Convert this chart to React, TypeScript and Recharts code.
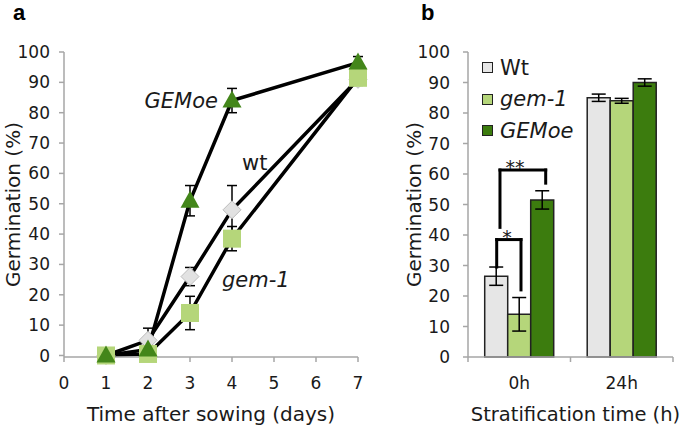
import React from 'react';
import {
  ComposedChart,
  Line,
  XAxis,
  YAxis,
  ErrorBar,
  ReferenceDot,
  ReferenceLine,
  BarChart,
  Bar,
  Legend,
} from 'recharts';

// ---------- Panel a data ----------
const days = [1, 2, 3, 4, 7];
const wtA = [0, 5, 26, 48, 91];
const wtAErr = [0.5, 4, 3, 8, 2];
const gem1A = [0, 0.5, 14, 38.5, 91.5];
const gem1AErr = [0.5, 1, 5.5, 4, 2];
const gemoeA = [0, 2, 51, 84, 96.5];
const gemoeAErr = [0.5, 1.5, 5, 4, 2];
const xTicksA = [0, 1, 2, 3, 4, 5, 6, 7];
const yTicks = [0, 10, 20, 30, 40, 50, 60, 70, 80, 90, 100];

// ---------- Panel b data ----------
const stratTimes = ['0h', '24h'];
const wtB = [26.5, 85];
const wtBErr = [3, 1.2];
const gem1B = [14, 84];
const gem1BErr = [5.5, 0.8];
const gemoeB = [51.5, 90];
const gemoeBErr = [3, 1.2];
const seriesNames = ['Wt', 'gem-1', 'GEMoe'];

const lineData = days.map((d, i) => ({
  day: d,
  wt: wtA[i],
  wtErr: wtAErr[i],
  gem1: gem1A[i],
  gem1Err: gem1AErr[i],
  gemoe: gemoeA[i],
  gemoeErr: gemoeAErr[i],
}));

const barData = stratTimes.map((t, i) => ({
  time: t,
  slot: i + 0.5,
  wt: wtB[i],
  wtErr: wtBErr[i],
  gem1: gem1B[i],
  gem1Err: gem1BErr[i],
  gemoe: gemoeB[i],
  gemoeErr: gemoeBErr[i],
}));

const FONT = '"DejaVu Sans", sans-serif';
const AXIS = '#a6a6a6';
const TXT = '#1a1a1a';
const C_WT = '#e6e6e6';
const C_GEM = '#b5d67a';
const C_OE = '#3c7c0e';
const C_OE_MARK = '#43861a';

const tickStyle = { fill: TXT, fontSize: 17, fontFamily: FONT };

const Triangle = (p: any) => {
  const { cx, cy } = p;
  if (cx == null || cy == null) return null;
  return (
    <polygon
      points={`${cx},${cy - 10} ${cx + 9.5},${cy + 7} ${cx - 9.5},${cy + 7}`}
      fill={C_OE_MARK}
    />
  );
};
const Diamond = (p: any) => {
  const { cx, cy } = p;
  if (cx == null || cy == null) return null;
  return (
    <polygon
      points={`${cx},${cy - 9} ${cx + 9},${cy} ${cx},${cy + 9} ${cx - 9},${cy}`}
      fill="#e2e2e2"
      stroke="#bdbdbd"
      strokeWidth={1}
    />
  );
};
const Square = (p: any) => {
  const { cx, cy } = p;
  if (cx == null || cy == null) return null;
  return <rect x={cx - 9} y={cy - 9} width={18} height={18} fill={C_GEM} />;
};

const VTitle = (p: any) => {
  const { viewBox, bx, text } = p;
  const cy = viewBox.y + viewBox.height / 2;
  return (
    <text
      x={bx}
      y={cy}
      transform={`rotate(-90, ${bx}, ${cy})`}
      textAnchor="middle"
      fill={TXT}
      fontSize={20}
      fontFamily={FONT}
    >
      {text}
    </text>
  );
};

const HTitle = (p: any) => {
  const { viewBox, dx = 0, text, size = 20 } = p;
  const cx = viewBox.x + viewBox.width / 2 + dx;
  return (
    <text x={cx} y={viewBox.y + 64} textAnchor="middle" fill={TXT} fontSize={size} fontFamily={FONT}>
      {text}
    </text>
  );
};

const makeAnnot = (text: string, dx: number, anchor: string, italic: boolean, size = 21, dy = 7) => (p: any) => {
  const { cx, cy } = p;
  if (cx == null) return null;
  return (
    <text
      x={cx + dx}
      y={cy + dy}
      textAnchor={anchor as any}
      fill={TXT}
      fontSize={size}
      fontStyle={italic ? 'italic' : 'normal'}
      fontFamily={FONT}
    >
      {text}
    </text>
  );
};

const StratTick = (p: any) => {
  const { x, y, payload } = p;
  const v = payload.value;
  if (Number.isInteger(v)) {
    return <line x1={x} x2={x} y1={y - 5} y2={y} stroke={AXIS} strokeWidth={1.5} />;
  }
  return (
    <text x={x} y={y + 15} dy="0.71em" textAnchor="middle" {...tickStyle}>
      {stratTimes[Math.floor(v)]}
    </text>
  );
};

const legendColors = [C_WT, C_GEM, C_OE];
const LegendBox = () => (
  <div style={{ fontFamily: FONT, fontSize: 21, color: TXT }}>
    {seriesNames.map((n, i) => (
      <div key={n} style={{ display: 'flex', alignItems: 'center', height: 31.5 }}>
        <span
          style={{
            display: 'inline-block',
            width: 9,
            height: 9,
            background: legendColors[i],
            border: '1px solid #222',
            marginRight: 7,
          }}
        />
        <span style={{ fontStyle: i === 0 ? 'normal' : 'italic' }}>{n}</span>
      </div>
    ))}
  </div>
);

const bracketSeg = (x1: number, y1: number, x2: number, y2: number, k: string) => (
  <ReferenceLine
    key={k}
    xAxisId="g"
    segment={[
      { x: x1, y: y1 },
      { x: x2, y: y2 },
    ]}
    stroke="#000"
    strokeWidth={3}
    strokeLinecap="square"
    ifOverflow="visible"
  />
);

export default function App() {
  return (
    <div style={{ position: 'absolute', left: 0, top: 0, width: 685, height: 428, background: '#fff' }}>
      <div style={{ position: 'absolute', left: 0, top: 0 }}>
        <ComposedChart width={370} height={428} data={lineData} margin={{ top: 52, right: 12, bottom: 0, left: 0 }}>
          <XAxis
            dataKey="day"
            type="number"
            domain={[0, 7]}
            ticks={xTicksA}
            interval={0}
            height={71}
            tickSize={5}
            tickMargin={15}
            stroke={AXIS}
            strokeWidth={1.5}
            tick={tickStyle}
            label={<HTitle text="Time after sowing (days)" />}
          />
          <YAxis
            domain={[0, 100]}
            ticks={yTicks}
            interval={0}
            width={64}
            tickSize={5}
            tickMargin={9}
            stroke={AXIS}
            strokeWidth={1.5}
            tick={tickStyle}
            label={<VTitle bx={20} text="Germination (%)" />}
          />
          <Line dataKey="wt" stroke="#000" strokeWidth={3.5} dot={Diamond} activeDot={false} isAnimationActive={false}>
            <ErrorBar dataKey="wtErr" direction="y" width={5} stroke="#000" strokeWidth={1.5} />
          </Line>
          <Line dataKey="gem1" stroke="#000" strokeWidth={3.5} dot={Square} activeDot={false} isAnimationActive={false}>
            <ErrorBar dataKey="gem1Err" direction="y" width={5} stroke="#000" strokeWidth={1.5} />
          </Line>
          <Line dataKey="gemoe" stroke="#000" strokeWidth={3.5} dot={Triangle} activeDot={false} isAnimationActive={false}>
            <ErrorBar dataKey="gemoeErr" direction="y" width={5} stroke="#000" strokeWidth={1.5} />
          </Line>
          <ReferenceDot x={4} y={84} r={0} shape={makeAnnot('GEMoe', -14, 'end', true)} />
          <ReferenceDot x={4} y={63.5} r={0} shape={makeAnnot('wt', 10, 'start', false)} />
          <ReferenceDot x={4} y={25} r={0} shape={makeAnnot('gem-1', -10, 'start', true)} />
        </ComposedChart>
      </div>

      <div style={{ position: 'absolute', left: 360, top: 0 }}>
        <BarChart
          width={325}
          height={428}
          data={barData}
          margin={{ top: 52, right: 12, bottom: 0, left: 0 }}
          barCategoryGap="16.3%"
          barGap={0}
        >
          <XAxis
            xAxisId="g"
            dataKey="slot"
            type="number"
            domain={[0, 2]}
            ticks={[0, 0.5, 1, 1.5, 2]}
            interval={0}
            allowDecimals
            allowDataOverflow
            height={71}
            tickSize={5}
            tickMargin={0}
            tickLine={false}
            stroke={AXIS}
            strokeWidth={1.5}
            tick={StratTick}
            label={<HTitle dx={5} size={19.5} text="Stratification time (h)" />}
          />
          <XAxis xAxisId="cat" dataKey="time" hide height={0} />
          <YAxis
            domain={[0, 100]}
            ticks={yTicks}
            interval={0}
            width={108}
            tickSize={5}
            tickMargin={13}
            stroke={AXIS}
            strokeWidth={1.5}
            tick={tickStyle}
            label={<VTitle bx={61} text="Germination (%)" />}
          />
          <Legend
            layout="vertical"
            align="center"
            verticalAlign="middle"
            content={<LegendBox />}
            wrapperStyle={{ position: 'absolute', left: 122, top: 52, width: 'auto' }}
          />
          <Bar xAxisId="cat" dataKey="wt" name="Wt" fill={C_WT} stroke="#222" strokeWidth={1.5} isAnimationActive={false}>
            <ErrorBar dataKey="wtErr" direction="y" width={7} stroke="#000" strokeWidth={1.5} />
          </Bar>
          <Bar xAxisId="cat" dataKey="gem1" name="gem-1" fill={C_GEM} stroke="#222" strokeWidth={1.5} isAnimationActive={false}>
            <ErrorBar dataKey="gem1Err" direction="y" width={7} stroke="#000" strokeWidth={1.5} />
          </Bar>
          <Bar xAxisId="cat" dataKey="gemoe" name="GEMoe" fill={C_OE} stroke="#222" strokeWidth={1.5} isAnimationActive={false}>
            <ErrorBar dataKey="gemoeErr" direction="y" width={7} stroke="#000" strokeWidth={1.5} />
          </Bar>
          {bracketSeg(0.28, 29.5, 0.28, 38.5, 's1')}
          {bracketSeg(0.28, 38.5, 0.517, 38.5, 's2')}
          {bracketSeg(0.517, 38.5, 0.517, 22, 's3')}
          {bracketSeg(0.312, 42.5, 0.312, 61.3, 'd1')}
          {bracketSeg(0.312, 61.3, 0.758, 61.3, 'd2')}
          {bracketSeg(0.758, 61.3, 0.758, 57, 'd3')}
          <ReferenceDot xAxisId="g" x={0.38} y={38.5} r={0} ifOverflow="visible" shape={makeAnnot('*', 0, 'middle', false, 19, 4)} />
          <ReferenceDot xAxisId="g" x={0.459} y={61.3} r={0} ifOverflow="visible" shape={makeAnnot('**', 0, 'middle', false, 19, 4)} />
        </BarChart>
      </div>

      <svg width={685} height={428} style={{ position: 'absolute', left: 0, top: 0, pointerEvents: 'none' }}>
        <text x={13} y={20} fontSize={22} fontWeight="bold" fontFamily='"Liberation Sans", Arial, sans-serif' fill="#000">
          a
        </text>
        <text x={421} y={20} fontSize={22} fontWeight="bold" fontFamily='"Liberation Sans", Arial, sans-serif' fill="#000">
          b
        </text>
      </svg>
    </div>
  );
}
